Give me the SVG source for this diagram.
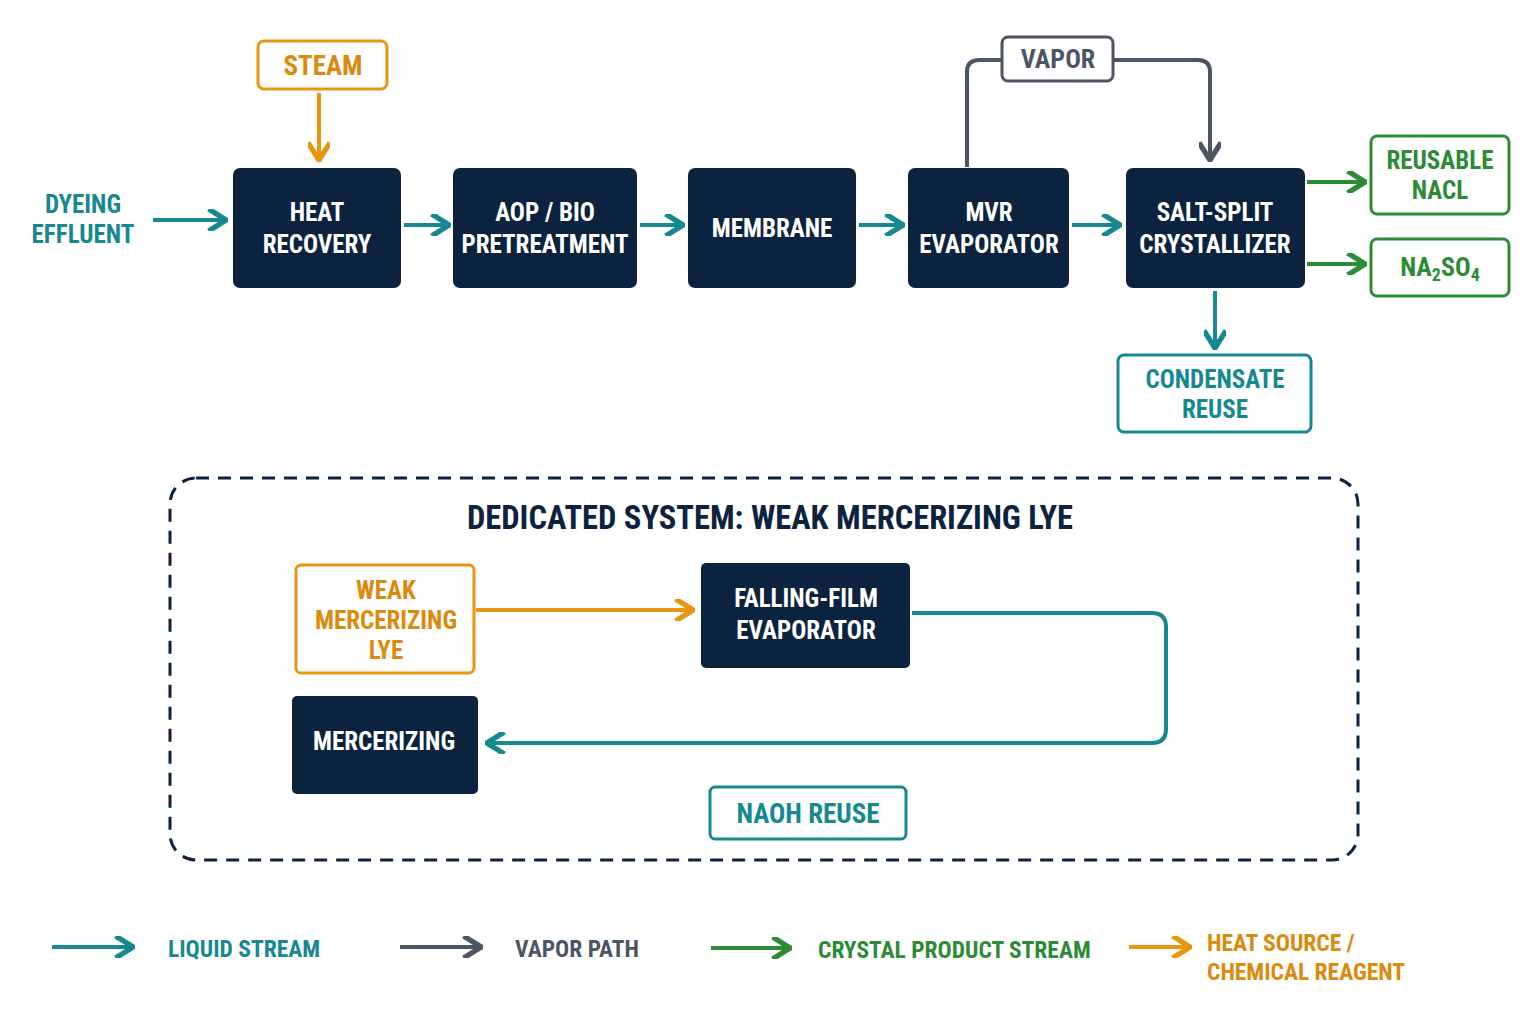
<svg xmlns="http://www.w3.org/2000/svg" width="1536" height="1024" viewBox="0 0 1536 1024">
<defs>
<style>
text{font-family:"Roboto Condensed","DejaVu Sans Condensed","Liberation Sans Narrow",Roboto,sans-serif;font-weight:bold;text-anchor:middle;font-stretch:condensed}
.dark rect{fill:#0c2340;}
.dark text{fill:#fff;font-size:25px}
.t{fill:#168891}.o{fill:#dc8a0c}.g{fill:#2e8b35}.gr{fill:#4b5563}
.lt{stroke:#168891}.lo{stroke:#e8960f}.lg{stroke:#2e8b35}.lgr{stroke:#4b5563}
.ln{fill:none;stroke-width:4}
.lg4{font-size:23.5px;text-anchor:start}
</style>
<marker id="mt" viewBox="0 0 10 10" refX="8" refY="5" markerWidth="5.5" markerHeight="5.5" orient="auto"><path d="M1,0 L9,5 L1,10" fill="none" stroke="#168891" stroke-width="2.4"/></marker>
<marker id="mo" viewBox="0 0 10 10" refX="8" refY="5" markerWidth="5.5" markerHeight="5.5" orient="auto"><path d="M1,0 L9,5 L1,10" fill="none" stroke="#e8960f" stroke-width="2.4"/></marker>
<marker id="mg" viewBox="0 0 10 10" refX="8" refY="5" markerWidth="5.5" markerHeight="5.5" orient="auto"><path d="M1,0 L9,5 L1,10" fill="none" stroke="#2e8b35" stroke-width="2.4"/></marker>
<marker id="mgr" viewBox="0 0 10 10" refX="8" refY="5" markerWidth="5.5" markerHeight="5.5" orient="auto"><path d="M1,0 L9,5 L1,10" fill="none" stroke="#4b5563" stroke-width="2.4"/></marker>
</defs>
<rect width="1536" height="1024" fill="#fff"/>

<g id="connectors">
<line class="ln lo" x1="319" y1="93" x2="319" y2="158" marker-end="url(#mo)"/>
<line class="ln lt" x1="153" y1="220" x2="224" y2="220" marker-end="url(#mt)"/>
<line class="ln lt" x1="404" y1="225" x2="447" y2="225" marker-end="url(#mt)"/>
<line class="ln lt" x1="640" y1="225" x2="681" y2="225" marker-end="url(#mt)"/>
<line class="ln lt" x1="859" y1="225" x2="901" y2="225" marker-end="url(#mt)"/>
<line class="ln lt" x1="1072" y1="225" x2="1118" y2="225" marker-end="url(#mt)"/>
<path class="ln lgr" d="M967,167 V72 Q967,60 979,60 H1002"/>
<path class="ln lgr" d="M1113,60 H1198 Q1210,60 1210,72 V158" marker-end="url(#mgr)"/>
<line class="ln lg" x1="1307" y1="182" x2="1363" y2="182" marker-end="url(#mg)"/>
<line class="ln lg" x1="1307" y1="264" x2="1363" y2="264" marker-end="url(#mg)"/>
<line class="ln lt" x1="1215" y1="291" x2="1215" y2="346" marker-end="url(#mt)"/>
<line class="ln lo" x1="476" y1="610" x2="691" y2="610" marker-end="url(#mo)"/>
<path class="ln lt" d="M912,613 H1152 Q1166,613 1166,627 V729 Q1166,743 1152,743 H489" marker-end="url(#mt)"/>
</g>

<g id="steam"><rect x="258" y="41" width="129" height="48" rx="6" fill="#fff" stroke="#e8960f" stroke-width="3"/><text class="o" x="323" y="75" font-size="27">STEAM</text></g>
<g id="dyeing"><text class="t" x="83" y="213" font-size="25">DYEING</text><text class="t" x="83" y="243" font-size="25">EFFLUENT</text></g>
<g id="heat" class="dark"><rect x="233" y="168" width="168" height="120" rx="7"/><text x="317" y="221">HEAT</text><text x="317" y="253">RECOVERY</text></g>
<g id="aop" class="dark"><rect x="453" y="168" width="184" height="120" rx="7"/><text x="545" y="221">AOP / BIO</text><text x="545" y="253">PRETREATMENT</text></g>
<g id="membrane" class="dark"><rect x="688" y="168" width="168" height="120" rx="7"/><text x="772" y="237">MEMBRANE</text></g>
<g id="mvr" class="dark"><rect x="908" y="168" width="161" height="120" rx="7"/><text x="989" y="221">MVR</text><text x="989" y="253">EVAPORATOR</text></g>
<g id="salt" class="dark"><rect x="1126" y="168" width="179" height="120" rx="7"/><text x="1215" y="221">SALT-SPLIT</text><text x="1215" y="253">CRYSTALLIZER</text></g>
<g id="vapor"><rect x="1002" y="37" width="111" height="44" rx="6" fill="#fff" stroke="#4b5563" stroke-width="3"/><text class="gr" x="1058" y="68" font-size="26">VAPOR</text></g>
<g id="nacl"><rect x="1371" y="136" width="138" height="78" rx="6" fill="#fff" stroke="#2e8b35" stroke-width="3"/><text class="g" x="1440" y="169" font-size="25">REUSABLE</text><text class="g" x="1440" y="199" font-size="25">NACL</text></g>
<g id="na2so4"><rect x="1371" y="239" width="138" height="57" rx="6" fill="#fff" stroke="#2e8b35" stroke-width="3"/><text class="g" x="1440" y="276" font-size="26">NA<tspan font-size="18" dy="5">2</tspan><tspan dy="-5">SO</tspan><tspan font-size="18" dy="5">4</tspan></text></g>
<g id="condensate"><rect x="1118" y="355" width="193" height="77" rx="6" fill="#fff" stroke="#168891" stroke-width="3"/><text class="t" x="1215" y="388" font-size="25">CONDENSATE</text><text class="t" x="1215" y="418" font-size="25">REUSE</text></g>

<g id="dedicated">
<rect x="170" y="478" width="1188" height="382" rx="26" fill="none" stroke="#0c2340" stroke-width="3" stroke-dasharray="13 9"/>
<text x="770" y="529" font-size="32.5" fill="#0c2340">DEDICATED SYSTEM: WEAK MERCERIZING LYE</text>
</g>
<g id="weaklye"><rect x="296" y="565" width="178" height="108" rx="5" fill="#fff" stroke="#e8960f" stroke-width="3"/><text class="o" x="386" y="599" font-size="25">WEAK</text><text class="o" x="386" y="629" font-size="25">MERCERIZING</text><text class="o" x="386" y="659" font-size="25">LYE</text></g>
<g id="falling" class="dark"><rect x="701" y="563" width="209" height="105" rx="5"/><text x="806" y="607">FALLING-FILM</text><text x="806" y="639">EVAPORATOR</text></g>
<g id="mercerizing" class="dark"><rect x="292" y="696" width="186" height="98" rx="5"/><text x="384" y="750">MERCERIZING</text></g>
<g id="naoh"><rect x="710" y="787" width="196" height="52" rx="5" fill="#fff" stroke="#168891" stroke-width="3"/><text class="t" x="808" y="823" font-size="27">NAOH REUSE</text></g>

<g id="legend">
<line class="ln lt" x1="52" y1="947" x2="131" y2="947" marker-end="url(#mt)"/>
<text class="t lg4" x="168" y="957">LIQUID STREAM</text>
<line class="ln lgr" x1="400" y1="947" x2="479" y2="947" marker-end="url(#mgr)"/>
<text class="gr lg4" x="515" y="957">VAPOR PATH</text>
<line class="ln lg" x1="711" y1="948" x2="788" y2="948" marker-end="url(#mg)"/>
<text class="g lg4" x="818" y="958">CRYSTAL PRODUCT STREAM</text>
<line class="ln lo" x1="1129" y1="947" x2="1188" y2="947" marker-end="url(#mo)"/>
<text class="o lg4" x="1207" y="951">HEAT SOURCE /</text>
<text class="o lg4" x="1207" y="980">CHEMICAL REAGENT</text>
</g>
</svg>
